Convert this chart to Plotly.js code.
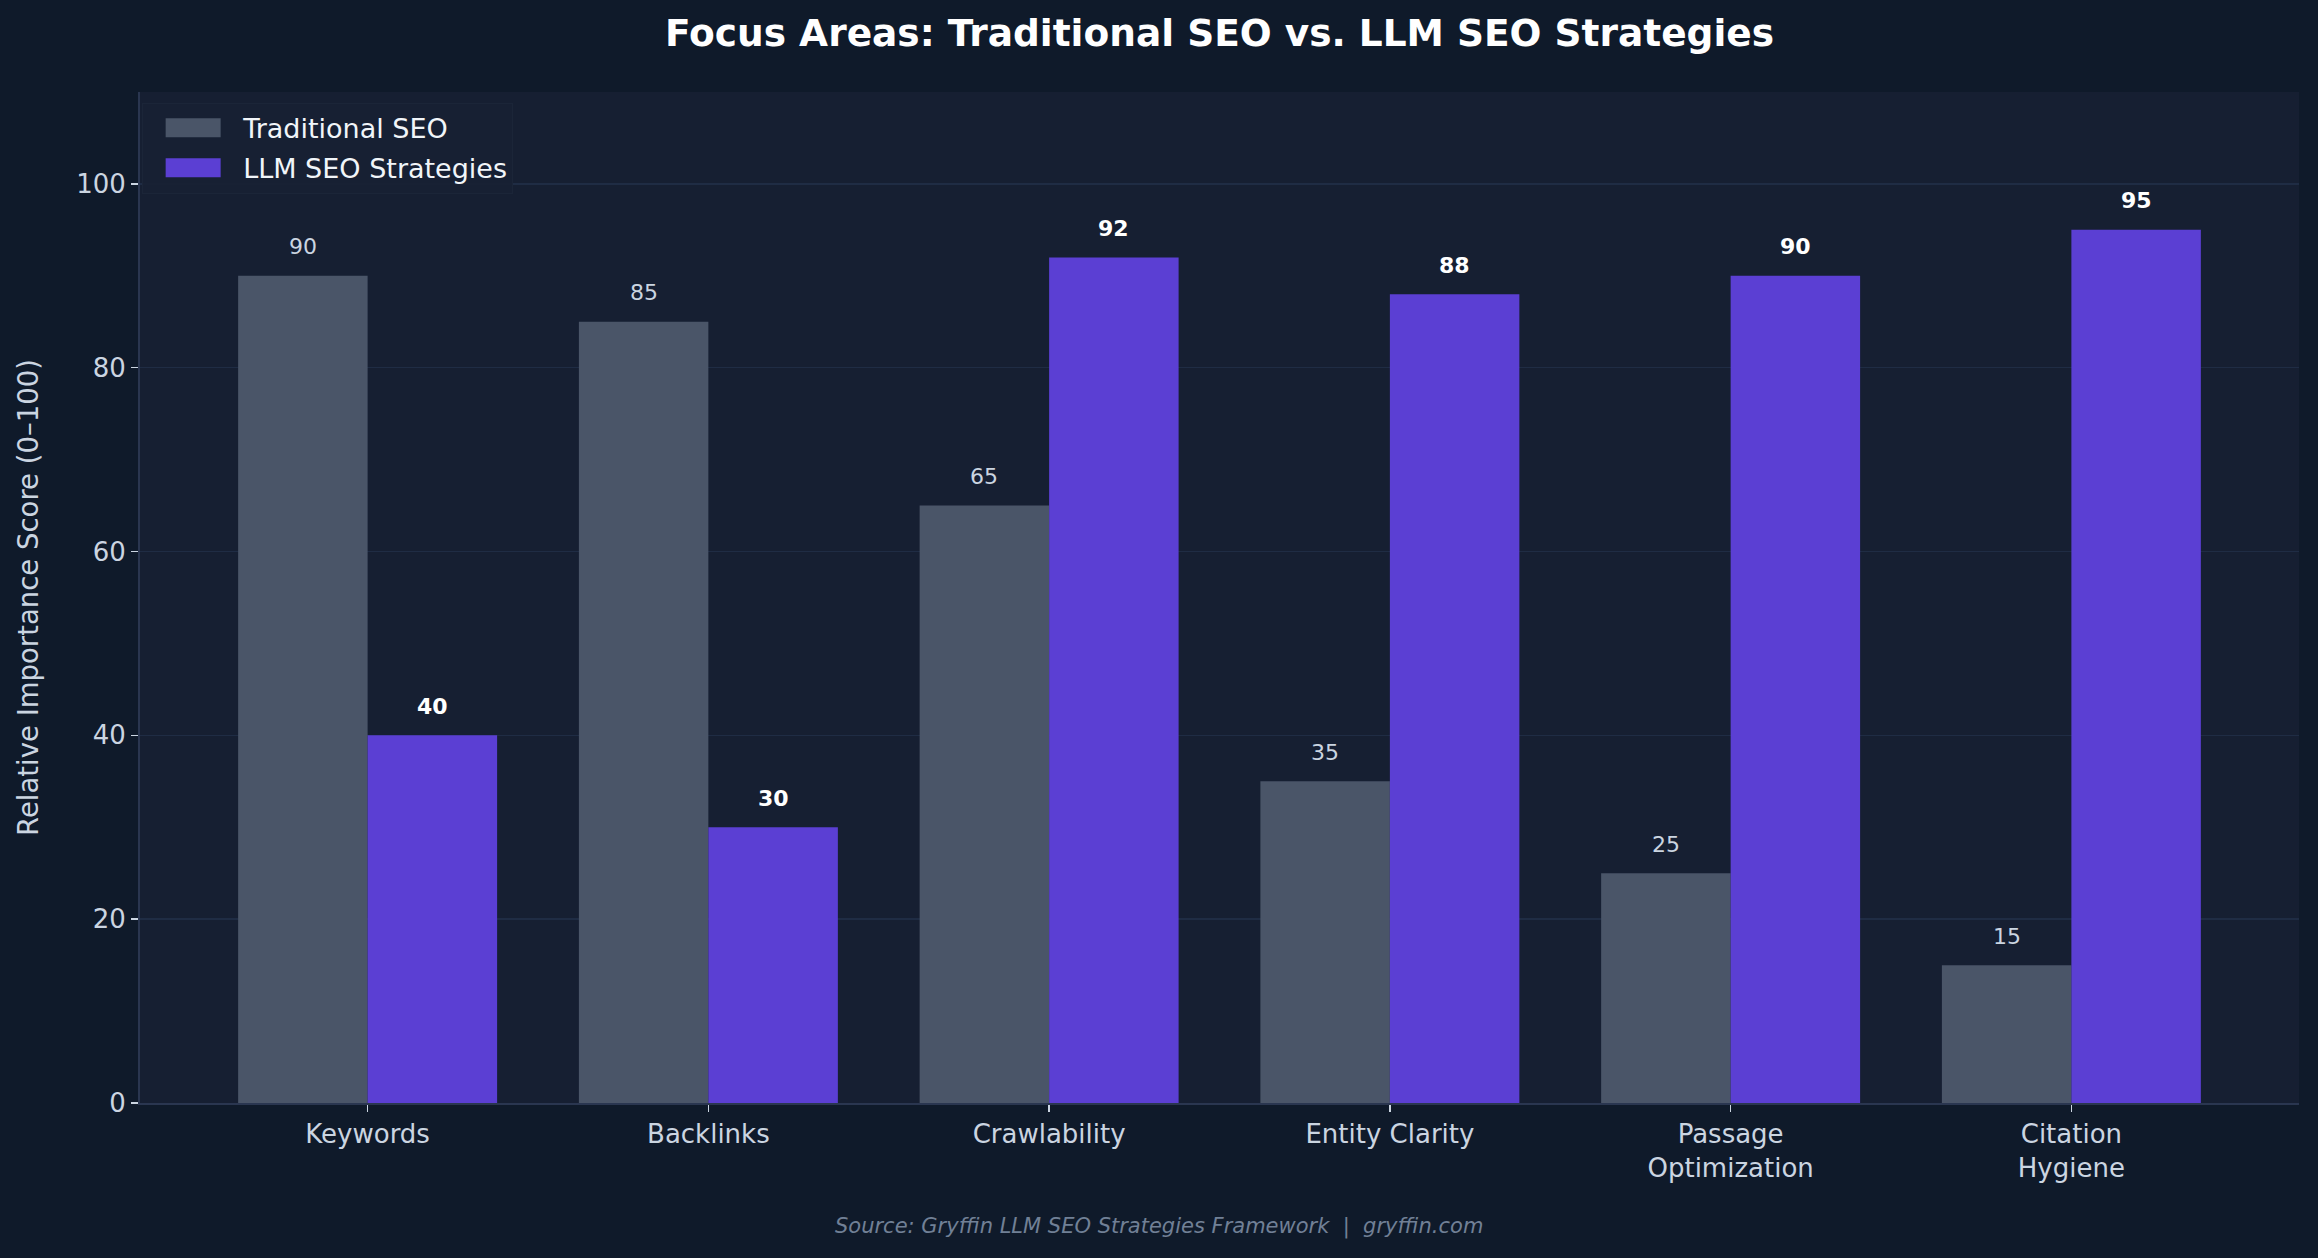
<!DOCTYPE html>
<html>
<head>
<meta charset="utf-8">
<script src="https://cdn.plot.ly/plotly-3.0.1.min.js"></script>
<style>html,body{margin:0;padding:0;background:#0f1a2a;}#chart{width:2318px;height:1258px;}</style>
</head>
<body>
<div id="chart"></div>
<script>
const categories = ["Keywords", "Backlinks", "Crawlability", "Entity Clarity", "Passage<br>Optimization", "Citation<br>Hygiene"];
const traditionalScores = [90, 85, 65, 35, 25, 15];
const llmScores = [40, 30, 92, 88, 90, 95];
const seriesNames = ["Traditional SEO", "LLM SEO Strategies"];
const yTicks = [0, 20, 40, 60, 80, 100];

const FONT = "DejaVu Sans, Verdana, sans-serif";
const textLight = "#cbd5e1";
const gray = "#4a5568";
const purple = "#5b3fd3";

const traces = [
  {type: "bar", name: seriesNames[0], x: categories, y: traditionalScores, legendgroup: "g1",
   marker: {color: gray, line: {width: 0}}, hoverinfo: "y"},
  {type: "bar", name: seriesNames[1], x: categories, y: llmScores, legendgroup: "g2",
   marker: {color: purple, line: {width: 0}}, hoverinfo: "y"}
];

const barW = 0.38;
const annotations = [];
traditionalScores.forEach((v, i) => {
  annotations.push({x: i - barW / 2, y: v, xref: "x", yref: "y", text: String(v),
    showarrow: false, yanchor: "middle", yshift: 29,
    font: {family: FONT, size: 22, color: textLight}});
});
llmScores.forEach((v, i) => {
  annotations.push({x: i + barW / 2, y: v, xref: "x", yref: "y", text: "<b>" + v + "</b>",
    showarrow: false, yanchor: "middle", yshift: 29,
    font: {family: FONT, size: 22, color: "#ffffff"}});
});
annotations.push({x: (1159 - 140) / 2159, y: -0.1226, xref: "paper", yref: "paper",
  text: "<i>Source: Gryffin LLM SEO Strategies Framework  |  gryffin.com</i>",
  showarrow: false, xanchor: "center", yanchor: "middle",
  font: {family: FONT, size: 21, color: "#718096"}});

const layout = {
  width: 2318, height: 1258,
  paper_bgcolor: "#0f1a2a",
  plot_bgcolor: "#161f32",
  margin: {l: 140, r: 19, t: 92, b: 155},
  font: {family: FONT, color: textLight},
  title: {text: "<b>Focus Areas: Traditional SEO vs. LLM SEO Strategies</b>",
    xref: "paper", x: 0.5, xanchor: "center", y: 1 - 33 / 1258, yanchor: "middle",
    font: {family: FONT, size: 37.5, color: "#ffffff"}},
  barmode: "group",
  bargap: 0.24,
  bargroupgap: 0,
  showlegend: true,
  legend: {x: 0.001, y: 0.9895, xanchor: "left", yanchor: "top",
    itemwidth: 90, tracegroupgap: 2, traceorder: "grouped",
    bgcolor: "rgba(23,32,51,0.9)", bordercolor: "#1b2538", borderwidth: 1,
    font: {family: FONT, size: 27, color: "#f1f5f9"}},
  xaxis: {
    range: [-0.668, 5.668],
    showgrid: false, zeroline: false,
    showline: true, linecolor: "#2a3650", linewidth: 2,
    ticks: "outside", ticklen: 7, tickwidth: 1.5, tickcolor: textLight,
    tickfont: {family: FONT, size: 26, color: textLight},
    automargin: false
  },
  yaxis: {
    range: [0, 110],
    tickvals: yTicks, ticktext: yTicks.map(String),
    showgrid: true, gridcolor: "#1f2c44", gridwidth: 1.5,
    zeroline: false,
    showline: true, linecolor: "#2a3650", linewidth: 2,
    ticks: "outside", ticklen: 7, tickwidth: 1.5, tickcolor: textLight,
    tickfont: {family: FONT, size: 26, color: textLight},
    title: {text: "Relative Importance Score (0–100)", standoff: 30,
      font: {family: FONT, size: 27.5, color: textLight}},
    automargin: false
  },
  annotations: annotations
};

Plotly.newPlot("chart", traces, layout, {displayModeBar: false, staticPlot: true}).then(() => {
  document.querySelectorAll(".legend .legendpoints path").forEach(p => {
    p.setAttribute("d", "M27.5,9.5H-27.5V-9.5H27.5Z");
    p.style.strokeWidth = "0";
  });
});
</script>
</body>
</html>
